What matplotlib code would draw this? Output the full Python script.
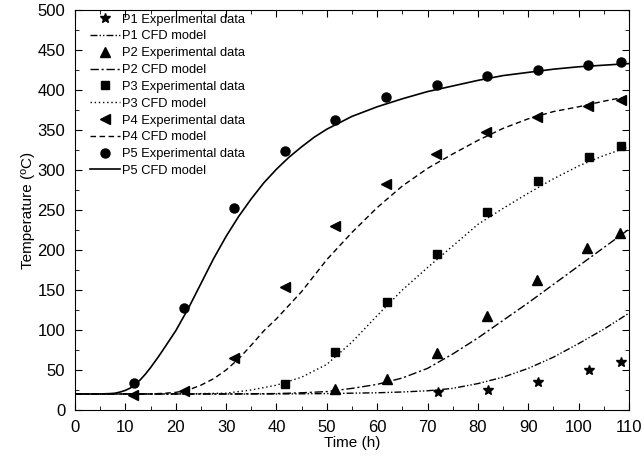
import matplotlib
matplotlib.use('Agg')
import matplotlib.pyplot as plt
from matplotlib.ticker import MultipleLocator

plt.rcParams['font.family'] = ['Liberation Sans', 'DejaVu Sans']

# experimental points (time h, temperature C)
p1_t = [72, 82, 92, 102, 108.5]
p1_T = [22, 25, 35, 50, 60]
p2_t = [51.7, 61.9, 71.8, 81.9, 91.7, 101.6, 108.3]
p2_T = [26, 39, 71, 117, 162, 202, 221]
p3_t = [41.7, 51.7, 61.9, 71.8, 81.9, 92, 102, 108.5]
p3_T = [32, 72, 135, 195, 247, 286, 316, 330]
p4_t = [11.6, 21.6, 31.6, 41.7, 51.6, 61.8, 71.7, 81.7, 91.7, 101.8, 108.5]
p4_T = [19, 24, 65, 154, 230, 282, 320, 347, 366, 380, 387]
p5_t = [11.7, 21.7, 31.6, 41.7, 51.7, 61.8, 71.9, 81.9, 92, 101.9, 108.4]
p5_T = [34, 128, 253, 324, 363, 391, 406, 417, 425, 431, 435]

# CFD model curves
m1_t = [0, 40, 50, 55, 60, 65, 70, 75, 80, 85, 90, 95, 100, 105, 110]
m1_T = [20, 20, 20.5, 21, 21.5, 22.5, 24, 27, 33, 41, 52, 66, 83, 101, 121]
m2_t = [0, 30, 40, 45, 50, 55, 60, 65, 70, 75, 80, 85, 90, 95, 100, 105, 110]
m2_T = [20, 20, 20.5, 21.5, 23, 27, 32, 40, 52, 70, 90, 112, 134, 157, 180, 203, 226]
m3_t = [0, 20, 25, 30, 35, 40, 45, 50, 55, 60, 65, 70, 75, 80, 85, 90, 95, 100, 105, 110]
m3_T = [20, 20, 20.5, 21, 25, 31, 41, 57, 85, 118, 150, 178, 205, 232, 252, 271, 289, 305, 318, 329]
m4_t = [0, 10, 15, 18, 20, 22.5, 25, 27.5, 30, 32.5, 35, 37.5, 40, 42.5, 45, 47.5, 50,
        55, 60, 65, 70, 75, 80, 85, 90, 95, 100, 105, 110]
m4_T = [20, 20, 20, 21, 22, 25, 31, 39, 50, 64, 81, 99, 114, 131, 148, 168, 188,
        222, 253, 280, 302, 320, 337, 352, 364, 373, 379, 386, 392]
m5_t = [0, 5, 7, 8, 9, 10, 11, 12, 13, 14, 15, 16.5, 18, 20, 22.5, 25, 27.5, 30, 32.5, 35,
        37.5, 40, 42.5, 45, 47.5, 50, 55, 60, 65, 70, 75, 80, 85, 90, 95, 100, 105, 110]
m5_T = [20, 20, 20.5, 21, 22.5, 24.5, 27.5, 32, 38, 45, 53, 66, 80, 99, 127, 158, 189, 217,
        242, 264, 284, 301, 316, 329, 341, 351, 367, 379, 389, 398, 405, 412, 418, 422, 426,
        429, 431, 433]

fig = plt.figure(figsize=(6.44, 4.62), dpi=100)
ax = fig.add_axes([0.1165, 0.1126, 0.8602, 0.8658])

lw = 1.0
ax.plot(p1_t, p1_T, '*', color='black', ms=7.5, label='P1 Experimental data')
ax.plot(m1_t, m1_T, color='black', lw=lw, ls=(0, (5, 1.5, 1, 1.5, 1, 1.5)), label='P1 CFD model')
ax.plot(p2_t, p2_T, '^', color='black', ms=7, label='P2 Experimental data')
ax.plot(m2_t, m2_T, color='black', lw=lw, ls=(0, (6, 2, 1.5, 2)), label='P2 CFD model')
ax.plot(p3_t, p3_T, 's', color='black', ms=5.5, label='P3 Experimental data')
ax.plot(m3_t, m3_T, color='black', lw=lw, ls=(0, (1, 2)), label='P3 CFD model')
ax.plot(p4_t, p4_T, '<', color='black', ms=7, label='P4 Experimental data')
ax.plot(m4_t, m4_T, color='black', lw=lw, ls=(0, (4, 2.5)), label='P4 CFD model')
ax.plot(p5_t, p5_T, 'o', color='black', ms=6.5, label='P5 Experimental data')
ax.plot(m5_t, m5_T, color='black', lw=1.2, ls='-', label='P5 CFD model')

ax.set_xlim(0, 110)
ax.set_ylim(0, 500)
ax.xaxis.set_major_locator(MultipleLocator(10))
ax.xaxis.set_minor_locator(MultipleLocator(5))
ax.yaxis.set_major_locator(MultipleLocator(50))
ax.yaxis.set_minor_locator(MultipleLocator(25))
ax.tick_params(which='both', direction='in', top=True, right=True, labelsize=12, pad=7)
ax.tick_params(which='major', length=5)
ax.tick_params(which='minor', length=3)
ax.set_xlabel('Time (h)', fontsize=11, labelpad=1)
ax.set_ylabel('Temperature (ºC)', fontsize=11, labelpad=2)

ax.legend(loc='upper left', frameon=False, fontsize=9.3, labelspacing=0.37,
          handlelength=2.3, handletextpad=0.15, borderaxespad=0.0,
          bbox_to_anchor=(0.018, 1.004))

fig.savefig('out.png', dpi=100)
